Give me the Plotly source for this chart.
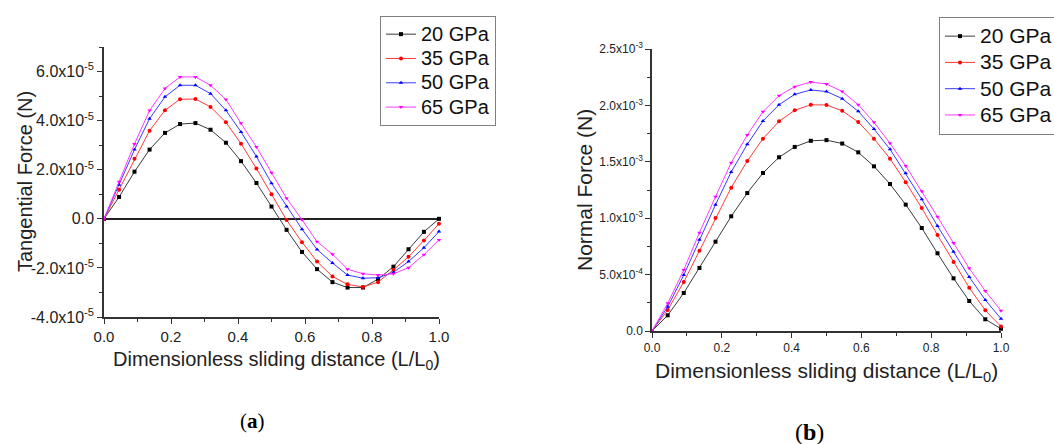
import plotly.graph_objects as go

# Dimensionless sliding distance L/L0 (23 sample positions)
sliding_distance = [0.0, 0.045, 0.091, 0.136, 0.182, 0.227, 0.273, 0.318, 0.364, 0.409,
                    0.455, 0.5, 0.545, 0.591, 0.636, 0.682, 0.727, 0.773, 0.818, 0.864,
                    0.909, 0.955, 1.0]

moduli = ["20 GPa", "35 GPa", "50 GPa", "65 GPa"]

# Tangential force, in units of 1e-5 N
tangential_20 = [0, 0.89, 1.92, 2.82, 3.50, 3.86, 3.90, 3.63, 3.10, 2.35, 1.46, 0.50,
                 -0.45, -1.35, -2.05, -2.58, -2.80, -2.80, -2.46, -1.95, -1.24, -0.53, 0.0]
tangential_35 = [0, 1.18, 2.45, 3.59, 4.42, 4.87, 4.88, 4.56, 3.93, 3.06, 2.05, 1.00,
                 -0.05, -0.95, -1.74, -2.35, -2.67, -2.78, -2.58, -2.08, -1.55, -0.88, -0.20]
tangential_50 = [0, 1.39, 2.82, 4.08, 4.97, 5.44, 5.44, 5.10, 4.42, 3.54, 2.54, 1.45,
                 0.50, -0.42, -1.25, -1.80, -2.29, -2.42, -2.40, -2.18, -1.74, -1.18, -0.52]
tangential_65 = [0, 1.51, 3.05, 4.41, 5.31, 5.78, 5.78, 5.44, 4.86, 3.89, 2.93, 1.88,
                 0.84, -0.04, -0.93, -1.44, -2.05, -2.24, -2.29, -2.24, -1.99, -1.46, -0.86]

# Normal force, in units of 1e-3 N
normal_20 = [0, 0.139, 0.337, 0.559, 0.792, 1.017, 1.223, 1.401, 1.540, 1.632, 1.686, 1.692,
             1.662, 1.584, 1.460, 1.303, 1.120, 0.913, 0.689, 0.467, 0.266, 0.104, 0.02]
normal_35 = [0, 0.186, 0.434, 0.712, 1.002, 1.271, 1.507, 1.705, 1.859, 1.957, 2.005, 2.004,
             1.952, 1.853, 1.705, 1.528, 1.318, 1.090, 0.851, 0.612, 0.384, 0.183, 0.04]
normal_50 = [0, 0.215, 0.496, 0.809, 1.120, 1.410, 1.655, 1.862, 2.006, 2.098, 2.137, 2.123,
             2.060, 1.948, 1.791, 1.611, 1.398, 1.168, 0.931, 0.703, 0.479, 0.275, 0.109]
normal_65 = [0, 0.245, 0.541, 0.872, 1.191, 1.492, 1.738, 1.944, 2.086, 2.166, 2.207, 2.190,
             2.123, 2.006, 1.850, 1.664, 1.463, 1.238, 1.013, 0.780, 0.556, 0.355, 0.180]

# Axis tick values / labels
tang_tickvals = [-4e-5, -2e-5, 0, 2e-5, 4e-5, 6e-5]
tang_ticktext = ["-4.0x10<sup>-5</sup>", "-2.0x10<sup>-5</sup>", "0.0",
                 "2.0x10<sup>-5</sup>", "4.0x10<sup>-5</sup>", "6.0x10<sup>-5</sup>"]
norm_tickvals = [0, 5e-4, 1e-3, 1.5e-3, 2e-3, 2.5e-3]
norm_ticktext = ["0.0", "5.0x10<sup>-4</sup>", "1.0x10<sup>-3</sup>",
                 "1.5x10<sup>-3</sup>", "2.0x10<sup>-3</sup>", "2.5x10<sup>-3</sup>"]
x_tickvals = [0, 0.2, 0.4, 0.6, 0.8, 1.0]
x_ticktext = ["0.0", "0.2", "0.4", "0.6", "0.8", "1.0"]

colors = ["#000000", "#ff0000", "#0000ff", "#ff00ff"]
line_colors = ["#3a3a3a", "#ff3a3a", "#3a3aff", "#ff3aff"]
symbols = ["square", "circle", "triangle-up", "triangle-down"]

W, H = 1054, 444
FONT = "Liberation Sans, Arial, sans-serif"


def px_x(v):
    return v / W


def px_y(v):
    return 1 - v / H


def legend_label(text, size):
    # larger glyphs than the legend row height would normally allow
    return f'<span style="font-size:{size}px">{text}</span>'


fig = go.Figure()

tang_sets = [tangential_20, tangential_35, tangential_50, tangential_65]
norm_sets = [normal_20, normal_35, normal_50, normal_65]

for name, vals, c, lc, s in zip(moduli, tang_sets, colors, line_colors, symbols):
    fig.add_trace(go.Scatter(
        x=sliding_distance, y=[v * 1e-5 for v in vals], name=legend_label(name, 20),
        mode="lines+markers", line=dict(color=lc, width=1),
        marker=dict(symbol=s, size=4, color=c), cliponaxis=False,
        xaxis="x", yaxis="y", legend="legend"))

for name, vals, c, lc, s in zip(moduli, norm_sets, colors, line_colors, symbols):
    fig.add_trace(go.Scatter(
        x=sliding_distance, y=[v * 1e-3 for v in vals], name=legend_label(name, 21),
        mode="lines+markers", line=dict(color=lc, width=1),
        marker=dict(symbol=s, size=4, color=c), cliponaxis=False,
        xaxis="x2", yaxis="y2", legend="legend2"))

axis_common = dict(showgrid=False, showline=True, linecolor="#333333", linewidth=1.5,
                   ticks="outside", ticklen=5, tickwidth=1.2, tickcolor="#333333",
                   mirror=False, automargin=False)

fig.update_layout(
    width=W, height=H,
    margin=dict(l=0, r=0, t=0, b=0, autoexpand=False),
    paper_bgcolor="white", plot_bgcolor="white",
    font=dict(family=FONT, color="#222222"),
    xaxis=dict(domain=[px_x(104), px_x(439)], range=[0, 1], anchor="y",
               tickmode="array", tickvals=x_tickvals, ticktext=x_ticktext,
               tickfont=dict(size=15), zeroline=False,
               minor=dict(dtick=0.1, tick0=0, ticks="outside", ticklen=3,
                          tickcolor="#333333"),
               **axis_common),
    yaxis=dict(domain=[px_y(317), px_y(47)], range=[-4e-5, 7e-5], anchor="x",
               tickmode="array", tickvals=tang_tickvals, ticktext=tang_ticktext,
               tickfont=dict(size=16), zeroline=True, zerolinecolor="#222222",
               zerolinewidth=1.5,
               minor=dict(dtick=1e-5, tick0=0, ticks="outside", ticklen=3,
                          tickcolor="#333333"),
               **axis_common),
    xaxis2=dict(domain=[px_x(652), px_x(1001)], range=[0, 1], anchor="y2",
                tickmode="array", tickvals=x_tickvals, ticktext=x_ticktext,
                tickfont=dict(size=12), zeroline=False,
                minor=dict(dtick=0.1, tick0=0, ticks="outside", ticklen=3,
                           tickcolor="#333333"),
                **axis_common),
    yaxis2=dict(domain=[px_y(331), px_y(49)], range=[0, 2.5e-3], anchor="x2",
                tickmode="array", tickvals=norm_tickvals, ticktext=norm_ticktext,
                tickfont=dict(size=12), zeroline=False,
                minor=dict(dtick=2.5e-4, tick0=0, ticks="outside", ticklen=3,
                           tickcolor="#333333"),
                **axis_common),
    legend=dict(x=px_x(380), y=px_y(16), xanchor="left", yanchor="top",
                bordercolor="#808080", borderwidth=1, bgcolor="white",
                font=dict(size=16.4, color="#111111"), tracegroupgap=0),
    legend2=dict(x=px_x(939), y=px_y(17), xanchor="left", yanchor="top",
                 bordercolor="#808080", borderwidth=1, bgcolor="white",
                 font=dict(size=17.9, color="#111111"), tracegroupgap=0),
    showlegend=True,
)

annotations = [
    dict(text="Tangential Force (N)", x=px_x(25), y=px_y(182), textangle=-90,
         font=dict(size=20, color="#222222")),
    dict(text="Dimensionless sliding distance (L/L<sub>0</sub>)", x=px_x(276), y=px_y(360),
         font=dict(size=20, color="#222222")),
    dict(text="Normal Force (N)", x=px_x(584), y=px_y(190), textangle=-90,
         font=dict(size=21, color="#222222")),
    dict(text="Dimensionless sliding distance (L/L<sub>0</sub>)", x=px_x(826), y=px_y(372),
         font=dict(size=21, color="#222222")),
    dict(text="(<b>a</b>)", x=px_x(252), y=px_y(421),
         font=dict(size=21, color="#000000", family="Liberation Serif, Times New Roman, serif")),
    dict(text="(<b>b</b>)", x=px_x(809), y=px_y(432),
         font=dict(size=24, color="#000000", family="Liberation Serif, Times New Roman, serif")),
]
for a in annotations:
    a.update(xref="paper", yref="paper", xanchor="center", yanchor="middle",
             showarrow=False)
fig.update_layout(annotations=annotations)

fig.write_html("out.html")
